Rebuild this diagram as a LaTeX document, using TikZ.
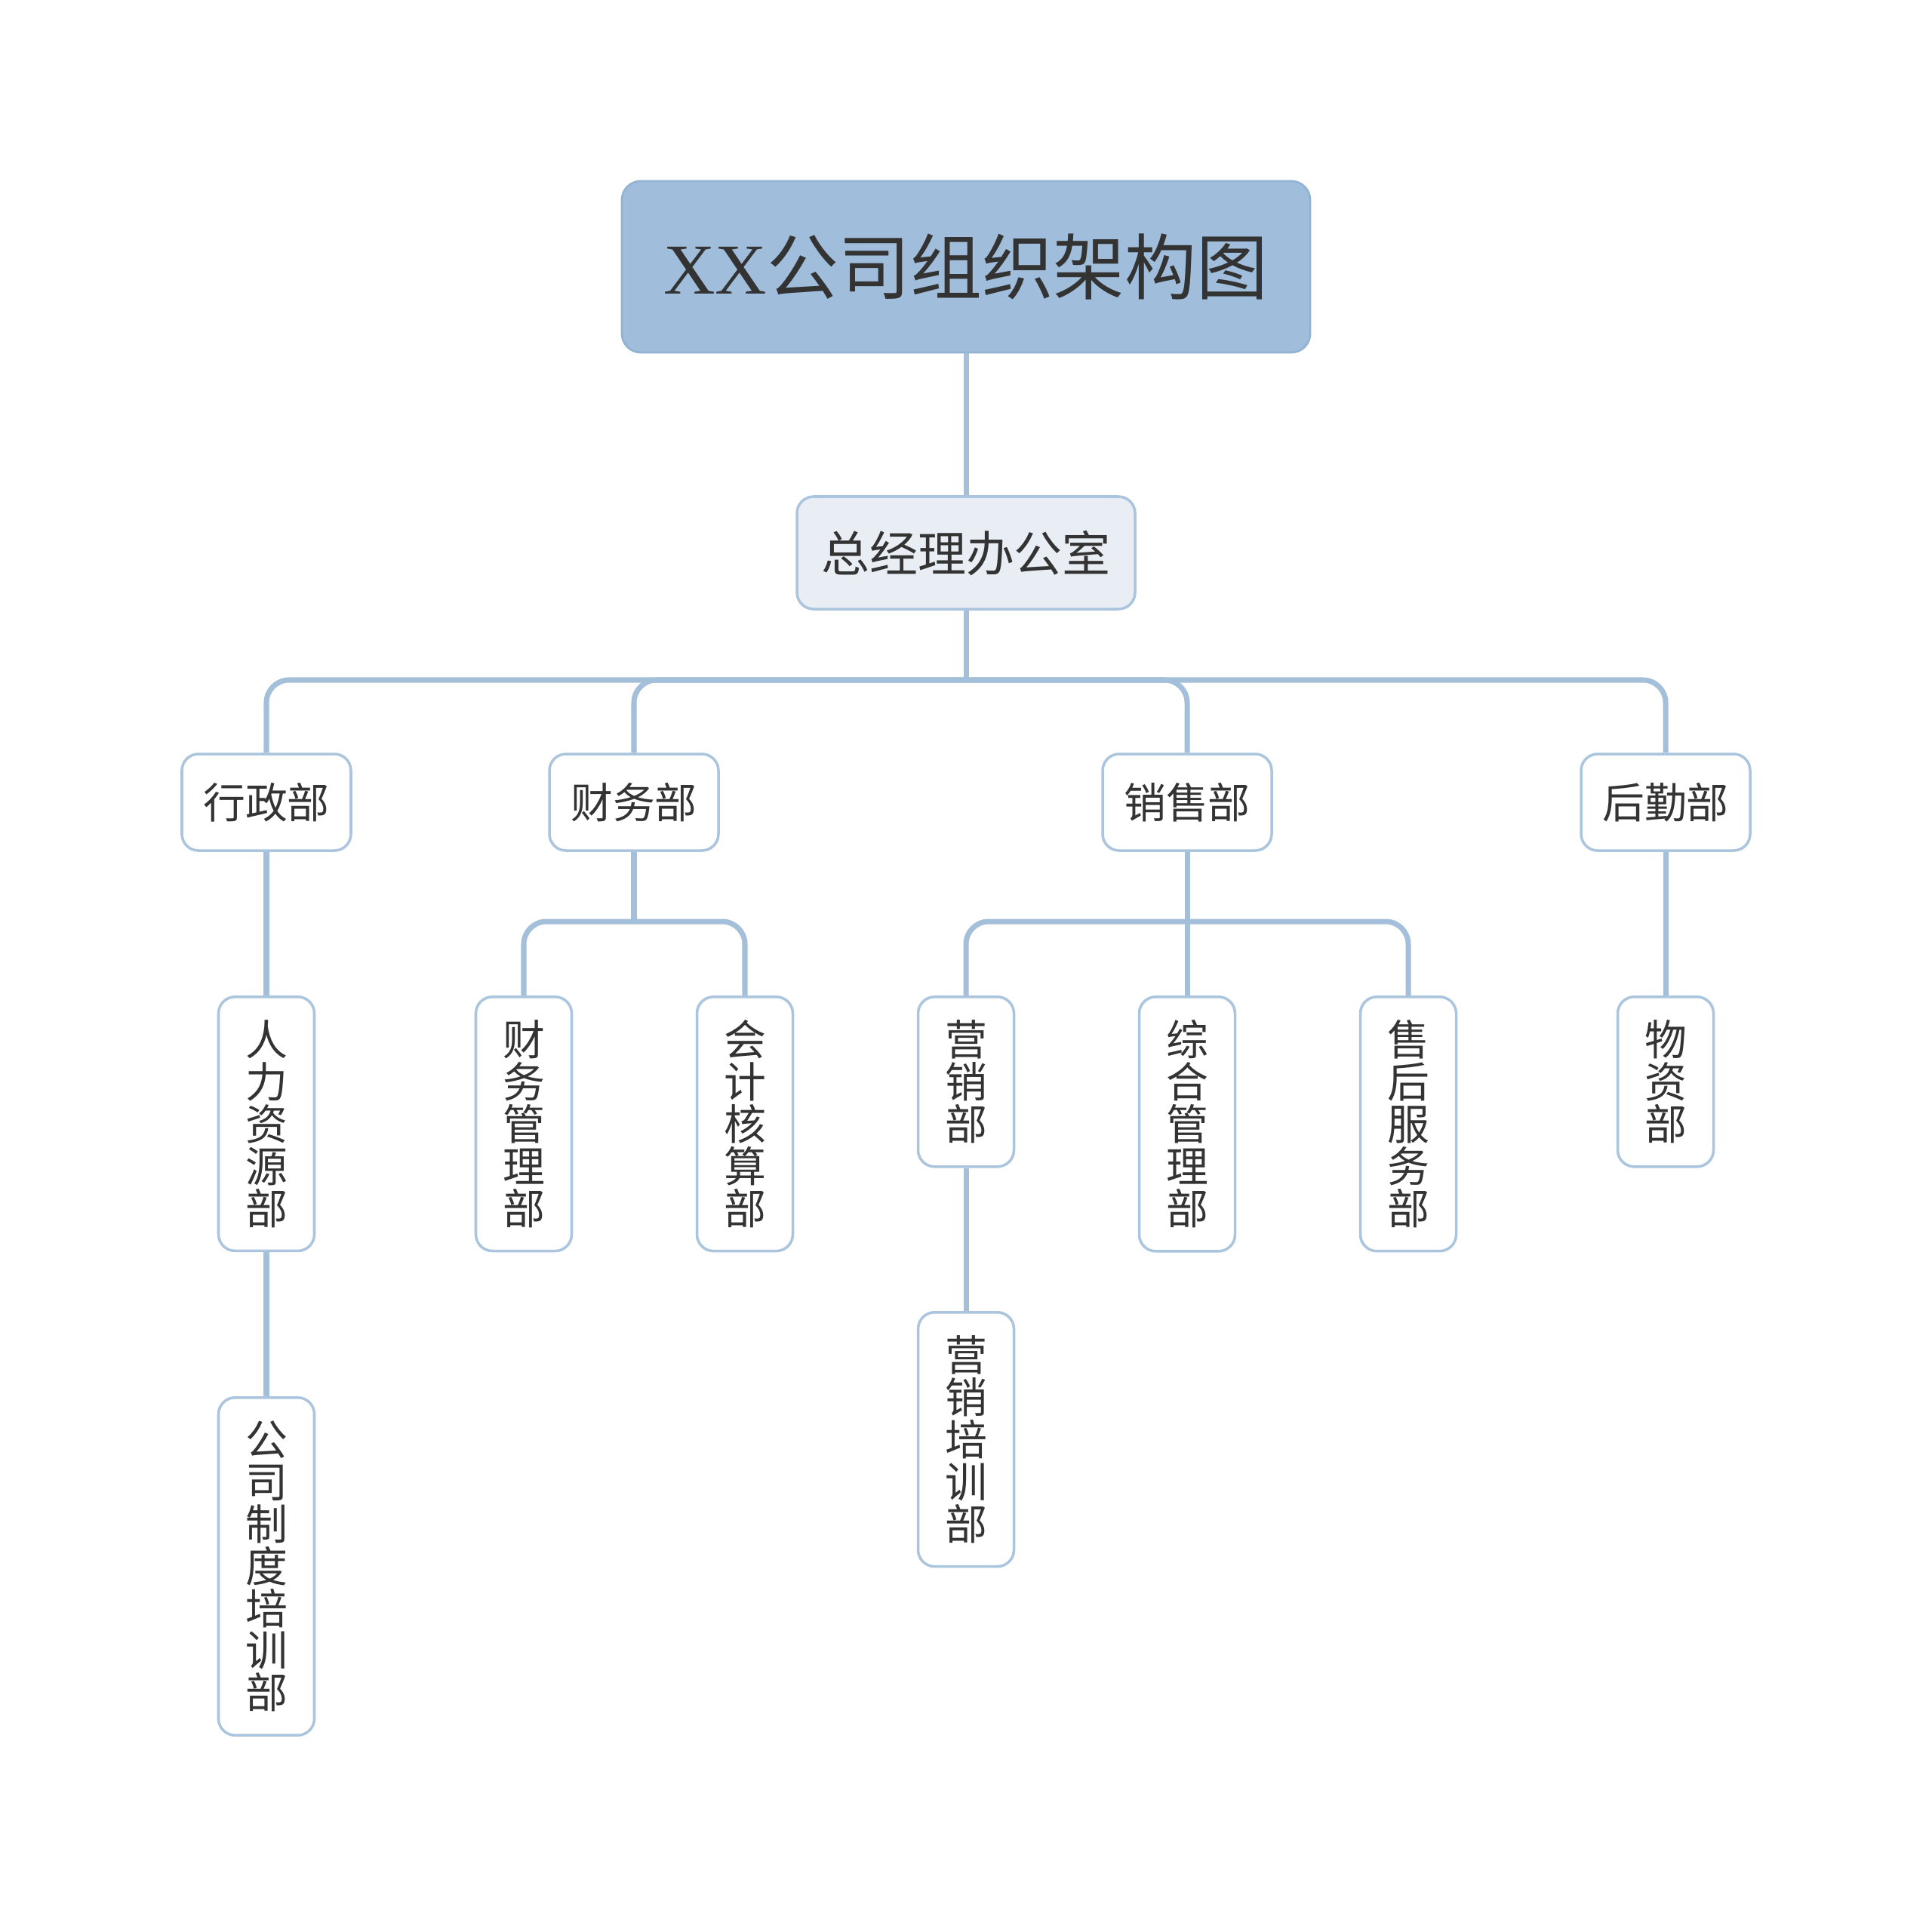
\documentclass[tikz,border=0pt]{standalone}
\usepackage{fontspec}
\setmainfont{Noto Sans CJK SC}
\newfontfamily\xxfont{Liberation Serif}
\usepackage{xcolor}
\usepackage{tikz}
\definecolor{rootfill}{HTML}{A0BEDB}
\definecolor{rootline}{HTML}{93B3D3}
\definecolor{subfill}{HTML}{E8EEF4}
\definecolor{boxline}{HTML}{AAC5DD}
\definecolor{linkblue}{HTML}{A3BFD9}
\definecolor{inktext}{HTML}{333333}

\begin{document}
\begin{tikzpicture} [
	root/.style = {rectangle, rounded corners = 0.25cm, draw = rootline, line width = 0.8pt, fill = rootfill, minimum width = 9.12cm, minimum height = 2.27cm, text = inktext, font = \fontsize{27}{30}\selectfont},
	office/.style = {rectangle, rounded corners = 0.22cm, draw = boxline, line width = 1pt, fill = subfill, minimum width = 4.48cm, minimum height = 1.49cm, text = inktext, font = \fontsize{18.2}{20}\selectfont},
	dept/.style = {rectangle, rounded corners = 0.22cm, draw = boxline, line width = 1pt, fill = white, minimum width = 2.24cm, minimum height = 1.28cm, text = inktext, font = \fontsize{15.9}{18}\selectfont},
	unit/.style = {rectangle, rounded corners = 0.22cm, draw = boxline, line width = 1pt, fill = white, minimum width = 1.27cm, inner ysep = 0.31cm, anchor = north, align = center, text = inktext, font = \fontsize{15.9}{15.9}\selectfont},
	link/.style = {draw = linkblue, line width = 2pt, rounded corners = 0.3cm}]
	\useasboundingbox (0,0) rectangle (25.6,-25.4);
	\node [root] (title) at (12.80,-3.535) {{\xxfont XX}公司组织架构图};
	\node [office] (office) at (12.80,-7.325) {总经理办公室};
	\node [dept] (xz) at (3.53,-10.63) {行政部};
	\node [dept] (cw) at (8.40,-10.63) {财务部};
	\node [dept] (xs) at (15.73,-10.63) {销售部};
	\node [dept] (hq) at (22.07,-10.63) {后勤部};
	\node [unit] (rlzy) at (3.53,-13.19) {人\\力\\资\\源\\部};
	\node [unit] (cwgl) at (6.94,-13.19) {财\\务\\管\\理\\部};
	\node [unit] (kjhs) at (9.87,-13.19) {会\\计\\核\\算\\部};
	\node [unit] (yx) at (12.80,-13.19) {营\\销\\部};
	\node [unit] (zhgl) at (15.73,-13.19) {综\\合\\管\\理\\部};
	\node [unit] (shfw) at (18.66,-13.19) {售\\后\\服\\务\\部};
	\node [unit] (wz) at (22.07,-13.19) {物\\资\\部};
	\node [unit] (gszd) at (3.53,-18.50) {公\\司\\制\\度\\培\\训\\部};
	\node [unit] (yxpx) at (12.80,-17.37) {营\\销\\培\\训\\部};
	\coordinate (hubtop) at (12.80,-9.01);
	\coordinate (hubcw) at (8.40,-12.21);
	\coordinate (hubxs) at (15.73,-12.21);
	\draw [link] (title.south) -- (office.north);
	\draw [link] (office.south) -- (hubtop);
	\foreach \d in {xz,cw,xs,hq}
		\draw [link] (hubtop) -| (\d.north);
	\draw [link] (xz.south) -- (rlzy.north);
	\draw [link] (rlzy.south) -- (gszd.north);
	\draw [link] (cw.south) -- (hubcw);
	\draw [link] (hubcw) -| (cwgl.north);
	\draw [link] (hubcw) -| (kjhs.north);
	\draw [link] (xs.south) -- (zhgl.north);
	\draw [link] (hubxs) -| (yx.north);
	\draw [link] (hubxs) -| (shfw.north);
	\draw [link] (yx.south) -- (yxpx.north);
	\draw [link] (hq.south) -- (wz.north);
\end{tikzpicture}
\end{document}
